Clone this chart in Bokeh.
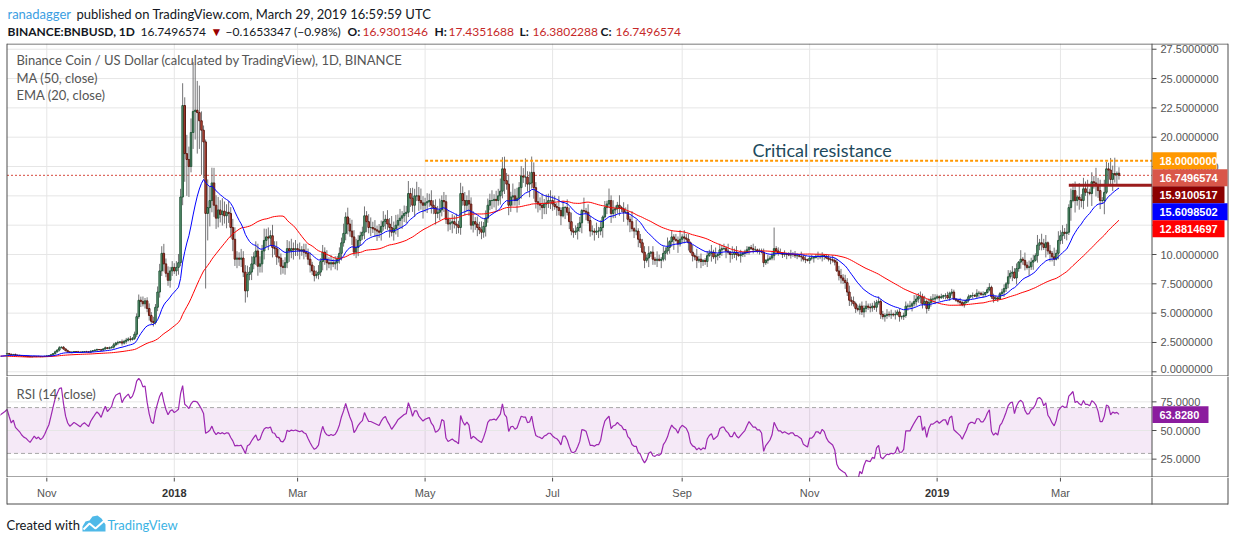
import numpy as np
import pandas as pd
from bokeh.plotting import figure
from bokeh.layouts import column
from bokeh.models import Range1d, Label, ColumnDataSource
from bokeh.embed import file_html
from bokeh.resources import INLINE
from bokeh.core.properties import value

# ---------------------------------------------------------------- data
WARMUP_CLOSE = [1.95, 2.05, 1.90, 1.85, 1.80, 1.75, 1.70, 1.65,
                1.70, 1.75, 1.60, 1.10, 1.25, 1.30, 1.25, 1.15, 1.10, 1.05,
                1.00, 1.00, 0.95, 0.85, 1.00, 1.05, 1.05, 1.15, 1.10, 1.15,
                1.05, 1.10, 1.15, 1.20, 1.25, 1.25, 1.30, 1.30, 1.30, 1.35,
                1.40, 1.38, 1.35, 1.33, 1.30, 1.30, 1.35, 1.42, 1.45, 1.48, 1.50, 1.52]
FIRST_DAY = "2017-10-13"

CLOSE = {
    "2017-10": [1.55, 1.50, 1.45, 1.48, 1.42, 1.40, 1.38, 1.35, 1.33, 1.32,
                1.30, 1.28, 1.30, 1.32, 1.30, 1.31, 1.29, 1.30, 1.32],
    "2017-11": [1.35, 1.38, 1.45, 1.55, 1.70, 1.85, 2.05, 2.10, 1.95, 1.80,
                1.70, 1.65, 1.68, 1.72, 1.70, 1.68, 1.66, 1.70, 1.72, 1.70,
                1.68, 1.75, 1.80, 1.85, 1.90, 1.88, 1.85, 1.95, 2.05, 2.00],
    "2017-12": [2.05, 2.10, 2.30, 2.45, 2.50, 2.55, 2.45, 2.60, 2.70, 2.80,
                2.75, 2.85, 3.20, 4.70, 6.10, 6.00, 5.80, 6.05, 5.40, 4.80,
                4.30, 4.20, 5.50, 6.80, 8.60, 10.10, 9.20, 8.40, 7.80, 8.60, 8.90],
    "2018-01": [8.60, 8.90, 9.30, 14.90, 22.70, 18.60, 18.10, 17.50, 20.40, 22.20,
                22.30, 22.10, 21.40, 20.60, 19.60, 13.50, 14.00, 14.60, 16.10, 14.20,
                13.10, 13.80, 13.40, 13.70, 13.30, 13.60, 13.50, 12.30, 11.30, 9.60, 9.70],
    "2018-02": [9.60, 9.70, 8.50, 6.90, 8.30, 8.50, 9.20, 9.80, 10.30, 9.00,
                9.20, 10.30, 11.20, 11.50, 11.40, 11.60, 10.60, 10.50, 9.80, 9.70,
                9.00, 8.90, 9.30, 10.50, 10.30, 10.50, 10.40, 10.50],
    "2018-03": [10.40, 10.30, 10.40, 10.20, 10.10, 9.60, 9.10, 8.60, 8.20, 8.30,
                8.50, 9.40, 10.20, 9.60, 9.30, 9.20, 9.30, 9.20, 9.30, 9.60,
                10.10, 11.00, 11.80, 13.20, 12.60, 12.00, 11.50, 10.20, 10.60, 11.20, 11.60],
    "2018-04": [11.90, 13.30, 12.80, 12.30, 12.30, 12.20, 12.10, 12.00, 11.90, 12.40,
                12.80, 13.00, 12.60, 12.30, 11.90, 12.20, 12.50, 12.90, 13.10, 13.30,
                13.50, 13.60, 15.20, 14.80, 14.20, 15.00, 15.00, 14.60, 14.40, 14.20],
    "2018-05": [14.40, 14.50, 14.60, 14.20, 14.00, 13.50, 13.60, 13.80, 14.60, 14.50,
                13.00, 12.60, 12.70, 12.80, 12.60, 12.50, 12.30, 15.20, 14.60, 14.20,
                14.60, 14.30, 12.50, 12.80, 12.60, 12.30, 12.10, 11.90, 12.40, 13.10, 14.20],
    "2018-06": [14.60, 14.60, 14.70, 14.60, 15.00, 15.40, 17.30, 16.30, 16.00, 14.20,
                14.90, 15.00, 14.60, 14.80, 15.70, 16.70, 16.60, 16.60, 16.00, 16.10,
                17.00, 15.70, 14.50, 14.30, 14.20, 14.00, 14.30, 14.40, 14.60, 14.60],
    "2018-07": [14.30, 14.10, 14.00, 13.75, 13.30, 14.00, 14.00, 13.60, 12.80, 12.00,
                11.90, 12.00, 12.30, 12.70, 13.75, 13.70, 13.60, 12.90, 12.00, 12.00,
                11.90, 12.00, 12.00, 12.30, 13.20, 14.00, 14.30, 14.60, 13.50, 13.80, 13.90],
    "2018-08": [14.20, 14.00, 13.90, 13.60, 13.60, 13.00, 12.80, 12.20, 12.00, 12.00,
                11.30, 11.00, 10.20, 9.50, 9.70, 10.10, 10.20, 9.60, 9.50, 9.60,
                9.50, 9.60, 10.10, 10.30, 10.60, 11.10, 11.50, 11.30, 11.20, 10.90, 11.30],
    "2018-09": [11.50, 11.40, 11.30, 11.00, 10.20, 9.90, 9.80, 9.50, 9.60, 9.40,
                9.50, 9.40, 9.90, 10.10, 10.20, 9.80, 9.90, 10.00, 10.40, 10.50,
                10.50, 10.30, 10.20, 10.00, 10.00, 10.20, 10.00, 9.90, 10.00, 10.10],
    "2018-10": [10.20, 10.40, 10.60, 10.50, 10.40, 10.40, 10.30, 10.30, 10.20, 9.30,
                9.50, 9.60, 9.70, 9.90, 10.50, 10.30, 10.10, 10.10, 10.00, 10.05,
                10.00, 9.95, 10.00, 10.00, 9.90, 9.90, 9.85, 9.80, 9.60, 9.55, 9.50],
    "2018-11": [9.70, 9.70, 9.75, 9.85, 9.85, 9.80, 9.90, 9.85, 9.70, 9.60,
                9.55, 9.50, 9.35, 8.60, 8.20, 8.00, 7.80, 7.60, 6.80, 6.10,
                6.00, 5.80, 5.40, 5.30, 5.60, 5.10, 5.40, 5.60, 5.50, 5.45],
    "2018-12": [5.60, 5.50, 5.90, 6.00, 4.90, 4.70, 4.80, 4.90, 4.85, 4.90,
                4.85, 4.90, 5.10, 4.70, 4.70, 4.80, 5.60, 5.60, 5.60, 5.80,
                6.00, 6.20, 6.40, 6.40, 5.80, 6.00, 5.40, 5.90, 6.20, 6.20, 6.30],
    "2019-01": [6.40, 6.30, 6.40, 6.50, 6.50, 6.30, 6.70, 6.80, 6.20, 6.10,
                6.00, 5.90, 5.70, 5.90, 6.10, 6.40, 6.50, 6.50, 6.45, 6.70,
                6.70, 6.60, 6.60, 6.75, 7.00, 7.20, 6.40, 6.20, 6.30, 6.20, 6.65],
    "2019-02": [6.80, 7.10, 7.50, 8.10, 8.40, 8.50, 8.00, 8.80, 9.35, 9.60,
                9.50, 9.10, 8.90, 8.95, 9.35, 9.50, 9.90, 10.80, 11.00, 10.90,
                10.60, 11.00, 10.30, 10.10, 9.80, 9.60, 10.10, 11.20],
    "2019-03": [11.60, 11.90, 11.80, 11.90, 14.00, 14.60, 15.45, 14.60, 14.90, 14.70,
                14.60, 15.60, 15.30, 15.30, 15.20, 16.20, 16.10, 15.90, 15.45, 14.60,
                14.60, 15.30, 17.30, 17.20, 16.40, 16.90, 16.80, 16.9149921, 16.7496574],
}
# upper / lower wick of each daily candle, in percent of price (one digit per day)
WICK_UP = {
    "2017-10": "3423524313242315234", "2017-11": "325364734253423524342533424352",
    "2017-12": "5474638575947685745869577685746", "2018-01": "4685577777777777745868686574696",
    "2018-02": "5867957486759674856746576857", "2018-03": "4635746354736485746354736485743",
    "2018-04": "463574635473648574635473648574", "2018-05": "3546354735463547364536473546354",
    "2018-06": "463547364537463547364536473546", "2018-07": "3527241536243418253426351427362",
    "2018-08": "2614352718243536152742638152437", "2018-09": "253416273512436271534261735241",
    "2018-10": "2312431223142322341312423214231", "2018-11": "231242312324235746585736475846",
    "2018-12": "5847364958374625748396574836475", "2019-01": "3241352431253423142532413524312",
    "2019-02": "4527364518273645283746152837", "2019-03": "45362745183647253846275364817",
}
WICK_DN = {
    "2017-10": "2413324231423142312", "2017-11": "324253624342532433423524324234",
    "2017-12": "4365749584635748476958467574685", "2018-01": "3574777777777777768776575867968",
    "2018-02": "6759868579687596857486759685", "2018-03": "5746357463548574635746357463574",
    "2018-04": "357463574635473648574635473648", "2018-05": "4635473546354736453647354635473",
    "2018-06": "354635473645374635473645374635", "2018-07": "4253617253426371524362537142635",
    "2018-08": "3526147253641728354617263548172", "2018-09": "342615372643517264351627435162",
    "2018-10": "3241322314231243213241322314231", "2018-11": "324132431242315647586473859647",
    "2018-12": "6473859647382956473846597384657", "2019-01": "2413524312352413241352431235241",
    "2019-02": "3645281736452837164528374615", "2019-03": "36452817364528173645281736452",
}
HIGH_FIX = {"2018-01-04": 15.6, "2018-01-05": 24.6, "2018-01-06": 23.4, "2018-01-07": 20.2,
            "2018-01-08": 19.2, "2018-01-09": 21.6, "2018-01-10": 26.4, "2018-01-11": 26.2,
            "2018-01-12": 24.8, "2018-01-13": 24.4, "2018-01-14": 22.2, "2018-01-15": 21.0,
            "2018-01-16": 19.8, "2018-01-17": 16.4, "2018-01-18": 15.8, "2018-01-19": 17.4,
            "2018-06-07": 18.3, "2018-06-18": 18.2, "2018-06-21": 18.35, "2018-10-15": 12.3,
            "2019-03-23": 17.9, "2019-03-29": 17.4351688}
LOW_FIX = {"2018-01-04": 9.0, "2018-01-05": 14.2, "2018-01-06": 16.2, "2018-01-07": 15.0,
           "2018-01-08": 14.9, "2018-01-09": 17.0, "2018-01-10": 19.0, "2018-01-11": 19.8,
           "2018-01-12": 18.6, "2018-01-13": 19.0, "2018-01-14": 16.8, "2018-01-15": 16.5,
           "2018-01-16": 7.1, "2018-01-17": 11.2, "2018-01-18": 12.4, "2018-01-19": 13.6,
           "2018-02-04": 5.9, "2019-03-29": 16.3802288}
OPEN_FIX = {"2019-03-29": 16.9301346}

MONTH_TICKS = ["2017-11-01", "2018-01-01", "2018-03-01", "2018-05-01", "2018-07-01",
               "2018-09-01", "2018-11-01", "2019-01-01", "2019-03-01"]
MONTH_LABELS = ["Nov", "2018", "Mar", "May", "Jul", "Sep", "Nov", "2019", "Mar"]
PRICE_TICKS = [0.0, 2.5, 5.0, 7.5, 10.0, 12.5, 15.0, 17.5, 20.0, 22.5, 25.0, 27.5]
RSI_TICKS = [25.0, 50.0, 75.0]
RSI_BAND = [30.0, 70.0]

RESISTANCE, RESISTANCE_FROM = 18.0, "2018-05-01"
SUPPORT, SUPPORT_FROM = 15.9100517, "2019-03-05"
TAG_VALUES = [18.0, 16.7496574, 15.9100517, 15.6098502, 12.8814697]
RSI_LAST = 63.8280

# ---------------------------------------------------------------- style / geometry (pixels)
W, H = 1234, 541
LEFT, AXIS_X, RIGHT = 6, 1151, 1227
TOP, MAIN_BOT, RSI_BOT, XAX_BOT = 43, 376, 477, 504
NOV1_PX, PX_PER_DAY = 46.3, 2.09
P0_PX, PX_PER_USD = 371.3, 11.73
R50_PX, PX_PER_RSI = 430.0, 1.146
TAG_COLORS = ["#ff9800", "#d9574a", "#8b0000", "#0000ff", "#ff0000"]
TAG_RIGHT = [1216, 1227, 1224, 1227, 1224]
UI, AX = "Lato", "Liberation Sans"
GRID, FRAME, AXTXT = "#e6e6e6", "#4d4d4d", "#555555"


def px2day(px):
    return (px - NOV1_PX) / PX_PER_DAY


def py2usd(py):
    return (P0_PX - py) / PX_PER_USD


def py2rsi(py):
    return 50.0 + (R50_PX - py) / PX_PER_RSI


def usd2py(v):
    return P0_PX - v * PX_PER_USD


# ---------------------------------------------------------------- prepare data
close_vis, up, dn = [], [], []
for m, c in CLOSE.items():
    k = len(c)
    close_vis += c
    up += [int(ch) for ch in (WICK_UP[m] + "4" * k)[:k]]
    dn += [int(ch) for ch in (WICK_DN[m] + "4" * k)[:k]]
close_vis = np.array(close_vis, dtype=float)
n = len(close_vis)
dates = pd.date_range(FIRST_DAY, periods=n, freq="D")
origin = pd.Timestamp(MONTH_TICKS[0])
xv = np.array((dates - origin).days, dtype=float)
keys = [d.strftime("%Y-%m-%d") for d in dates]

opens = np.r_[WARMUP_CLOSE[-1], close_vis[:-1]]
for i, kd in enumerate(keys):
    if kd in OPEN_FIX:
        opens[i] = OPEN_FIX[kd]
btop = np.maximum(opens, close_vis)
bbot = np.minimum(opens, close_vis)
high = btop * (1 + np.array(up) / 100.0)
low = bbot * (1 - np.array(dn) / 100.0)
for i, kd in enumerate(keys):
    if kd in HIGH_FIX:
        high[i] = max(HIGH_FIX[kd], btop[i])
    if kd in LOW_FIX:
        low[i] = min(LOW_FIX[kd], bbot[i])
is_up = close_vis >= opens
src = ColumnDataSource(dict(x=xv, top=btop, bot=bbot, hi=high, lo=low,
                            fill=np.where(is_up, "#6ba583", "#d75442"),
                            edge=np.where(is_up, "#225437", "#5b1a13")))

allc = np.r_[np.array(WARMUP_CLOSE), close_vis]
xall = np.r_[xv[0] - np.arange(len(WARMUP_CLOSE), 0, -1), xv]
ma50 = pd.Series(allc).rolling(50, min_periods=1).mean().values
ema20 = pd.Series(allc).ewm(span=20, adjust=False).mean().values
delta = np.diff(allc, prepend=allc[0])
ag = pd.Series(np.where(delta > 0, delta, 0.0)).ewm(alpha=1 / 14, adjust=False).mean().values
al = pd.Series(np.where(delta < 0, -delta, 0.0)).ewm(alpha=1 / 14, adjust=False).mean().values
rsi = 100 - 100 / (1 + ag / np.maximum(al, 1e-9))

tick_days = [float((pd.Timestamp(t) - origin).days) for t in MONTH_TICKS]


def day(s):
    return float((pd.Timestamp(s) - origin).days)


# ---------------------------------------------------------------- figures
def make(h, xr, yr):
    f = figure(width=W, height=h, x_range=xr, y_range=yr, x_axis_location=None,
               y_axis_location=None, tools="", toolbar_location=None, output_backend="svg",
               min_border_left=0, min_border_right=0, min_border_top=0, min_border_bottom=0,
               outline_line_color=None, background_fill_color="white", border_fill_color="white")
    f.grid.visible = False
    return f


xr = Range1d(px2day(0), px2day(W))
xl, xa, xrt = px2day(LEFT + 0.5), px2day(AXIS_X + 0.5), px2day(RIGHT + 0.5)

# header -------------------------------------------------------------
ph = make(TOP, Range1d(0, W), Range1d(TOP, 0))
last, prev = close_vis[-1], close_vis[-2]
chg = last - prev
hdr1 = [("ranadagger", 7, "#3b9ee2", "normal"),
        ("published on TradingView.com, March 29, 2019 16:59:59 UTC", 76, "#131722", "normal")]
hdr2 = [("BINANCE:BNBUSD, 1D", 7, "#131722", "bold"),
        ("%.7f" % last, 140, "#131722", "normal"),
        ("\u25bc", 210, "#9b0000", "normal"),
        ("\u2212%.7f (\u2212%.2f%%)" % (abs(chg), abs(chg) / prev * 100), 225, "#131722", "normal"),
        ("O:", 347, "#131722", "bold"), ("%.7f" % opens[-1], 362, "#c62828", "normal"),
        ("H:", 434, "#131722", "bold"), ("%.7f" % high[-1], 448, "#c62828", "normal"),
        ("L:", 519, "#131722", "bold"), ("%.7f" % low[-1], 532, "#c62828", "normal"),
        ("C:", 600, "#131722", "bold"), ("%.7f" % last, 615, "#c62828", "normal")]
for frags, yref, fs in [(hdr1, 13, "13px"), (hdr2, 31, "12px")]:
    for txt, xref, col, style in frags:
        ph.add_layout(Label(x=xref, y=yref, text=txt, text_font=UI, text_font_size=fs,
                            text_color=col, text_font_style=style, text_baseline="middle"))

# main price pane ----------------------------------------------------
p = make(MAIN_BOT - TOP, xr, Range1d(py2usd(MAIN_BOT), py2usd(TOP)))
Y0, Y1 = py2usd(MAIN_BOT), py2usd(TOP)
p.segment(x0=tick_days, y0=Y0, x1=tick_days, y1=Y1, line_color=GRID, line_width=1)
p.segment(x0=xl, y0=PRICE_TICKS, x1=xa, y1=PRICE_TICKS, line_color=GRID, line_width=1)
p.segment(x0=[xl], y0=[float(last)], x1=[xa], y1=[float(last)], line_color="#d6493d",
          line_dash="2 2", line_width=1)
p.segment(x0="x", y0="hi", x1="x", y1="lo", source=src, line_color="#737375", line_width=1)
p.vbar(x="x", width=0.72, top="top", bottom="bot", source=src,
       fill_color="fill", line_color="edge", line_width=1)
p.line(xall, ma50, line_color="#ff0000", line_width=1)
p.line(xall, ema20, line_color="#0000ff", line_width=1)
p.segment(x0=[day(RESISTANCE_FROM)], y0=[RESISTANCE], x1=[xa], y1=[RESISTANCE],
          line_color="#ff9800", line_width=2, line_dash="3 2")
p.segment(x0=[day(SUPPORT_FROM)], y0=[SUPPORT], x1=[xa], y1=[SUPPORT],
          line_color="#9b1c1c", line_width=3)
# frame lines
p.segment(x0=[xl, xa, xrt], y0=Y0, x1=[xl, xa, xrt], y1=Y1, line_color=FRAME, line_width=1)
p.segment(x0=xl, y0=[py2usd(TOP + 0.5), py2usd(MAIN_BOT - 0.5)], x1=xrt,
          y1=[py2usd(TOP + 0.5), py2usd(MAIN_BOT - 0.5)], line_color=FRAME, line_width=1)
# price scale
p.segment(x0=xa, y0=PRICE_TICKS, x1=px2day(AXIS_X + 5), y1=PRICE_TICKS, line_color=FRAME)
lab_y = [max(v, py2usd(MAIN_BOT - 8)) for v in PRICE_TICKS]
p.text(x=px2day(1160), y=lab_y, text=["%.7f" % v for v in PRICE_TICKS],
       text_font=value(AX), text_font_size="11px", text_color=AXTXT,
       text_baseline="middle", text_align="left")
# price tags
centers, prev_c = [], None
for v in TAG_VALUES:
    c = usd2py(v)
    if prev_c is not None:
        c = max(c, prev_c + 17)
    prev_c = c
    centers.append(c)
p.quad(left=px2day(AXIS_X + 1), right=[px2day(r) for r in TAG_RIGHT],
       top=[py2usd(c - 8.5) for c in centers], bottom=[py2usd(c + 8.5) for c in centers],
       fill_color=TAG_COLORS, line_color=None)
p.text(x=px2day(1159), y=[py2usd(c) for c in centers], text=["%.7f" % v for v in TAG_VALUES],
       text_font=value(AX), text_font_size="11px", text_font_style="bold", text_color="white",
       text_baseline="middle", text_align="left")
# texts in the pane
for txt, yref in [("Binance Coin / US Dollar (calculated by TradingView), 1D, BINANCE", 59),
                  ("MA (50, close)", 77), ("EMA (20, close)", 94)]:
    p.add_layout(Label(x=px2day(16), y=py2usd(yref), text=txt, text_font=UI,
                       text_font_size="13px", text_color="#555555", text_baseline="middle"))
p.add_layout(Label(x=px2day(752), y=py2usd(149), text="Critical resistance", text_font=UI,
                   text_font_size="18px", text_color="#21495c", text_baseline="middle"))

# RSI pane -----------------------------------------------------------
R0, R1 = py2rsi(RSI_BOT), py2rsi(MAIN_BOT)
q = make(RSI_BOT - MAIN_BOT, xr, Range1d(R0, R1))
q.segment(x0=tick_days, y0=R0, x1=tick_days, y1=R1, line_color=GRID, line_width=1)
q.quad(left=[xl], right=[xa], bottom=[RSI_BAND[0]], top=[RSI_BAND[1]],
       fill_color="#9c27b0", fill_alpha=0.1, line_color=None)
q.segment(x0=xl, y0=RSI_TICKS, x1=xa, y1=RSI_TICKS, line_color=GRID, line_width=1)
q.segment(x0=xl, y0=RSI_BAND, x1=xa, y1=RSI_BAND, line_color="#a8a8a8", line_dash="4 3",
          line_width=1)
q.line(xall, rsi, line_color="#9c27b0", line_width=1.2)
q.segment(x0=[xl, xa, xrt], y0=R0, x1=[xl, xa, xrt], y1=R1, line_color=FRAME, line_width=1)
q.segment(x0=[xl], y0=[py2rsi(RSI_BOT - 0.5)], x1=[xrt], y1=[py2rsi(RSI_BOT - 0.5)],
          line_color=FRAME, line_width=1)
q.segment(x0=xa, y0=RSI_TICKS, x1=px2day(AXIS_X + 5), y1=RSI_TICKS, line_color=FRAME)
q.text(x=px2day(1160), y=RSI_TICKS, text=["%.4f" % v for v in RSI_TICKS],
       text_font=value(AX), text_font_size="11px", text_color=AXTXT,
       text_baseline="middle", text_align="left")
q.quad(left=[px2day(AXIS_X + 1)], right=[px2day(1208)],
       top=[RSI_LAST + 8.4 / PX_PER_RSI], bottom=[RSI_LAST - 8.4 / PX_PER_RSI],
       fill_color="#8b1c9e", line_color=None)
q.text(x=[px2day(1159)], y=[RSI_LAST], text=["%.4f" % RSI_LAST], text_font=value(AX),
       text_font_size="11px", text_font_style="bold", text_color="white",
       text_baseline="middle", text_align="left")
q.add_layout(Label(x=px2day(16), y=py2rsi(393), text="RSI (14, close)", text_font=UI,
                   text_font_size="13px", text_color="#555555", text_baseline="middle"))

# time axis + footer -------------------------------------------------
f = make(H - RSI_BOT, xr, Range1d(H, RSI_BOT))
f.segment(x0=tick_days, y0=RSI_BOT, x1=tick_days, y1=RSI_BOT + 4, line_color=FRAME)
norm = [(d, lab) for d, lab in zip(tick_days, MONTH_LABELS) if not lab.isdigit()]
years = [(d, lab) for d, lab in zip(tick_days, MONTH_LABELS) if lab.isdigit()]
f.text(x=[d for d, _ in norm], y=492, text=[lab for _, lab in norm], text_font=value(AX),
       text_font_size="11px", text_color=AXTXT, text_align="center", text_baseline="middle")
f.text(x=[d for d, _ in years], y=492, text=[lab for _, lab in years], text_font=value(AX),
       text_font_size="11px", text_font_style="bold", text_color="#333333",
       text_align="center", text_baseline="middle")
f.segment(x0=[xl, xa, xrt], y0=RSI_BOT, x1=[xl, xa, xrt], y1=XAX_BOT, line_color=FRAME)
f.segment(x0=[xl], y0=[XAX_BOT - 0.5], x1=[xrt], y1=[XAX_BOT - 0.5], line_color=FRAME)
f.add_layout(Label(x=px2day(6), y=524, text="Created with", text_font=UI,
                   text_font_size="13px", text_color="#131722", text_baseline="middle"))
logo_x = [px2day(v) for v in (82, 82, 85, 89, 92, 97, 101, 105, 105)]
logo_y = [531, 526, 521, 520, 516, 515, 518, 524, 531]
f.patch(logo_x, logo_y, fill_color="#4fb9e8", line_color=None)
f.line([px2day(v) for v in (83, 89, 95, 104)], [529, 523, 528, 520], line_color="white",
       line_width=2)
f.add_layout(Label(x=px2day(107), y=524, text="TradingView", text_font=UI,
                   text_font_size="13px", text_color="#3bb3e4", text_baseline="middle"))

page = column(ph, p, q, f, spacing=0)
open("out.html", "w").write(file_html(page, INLINE))
